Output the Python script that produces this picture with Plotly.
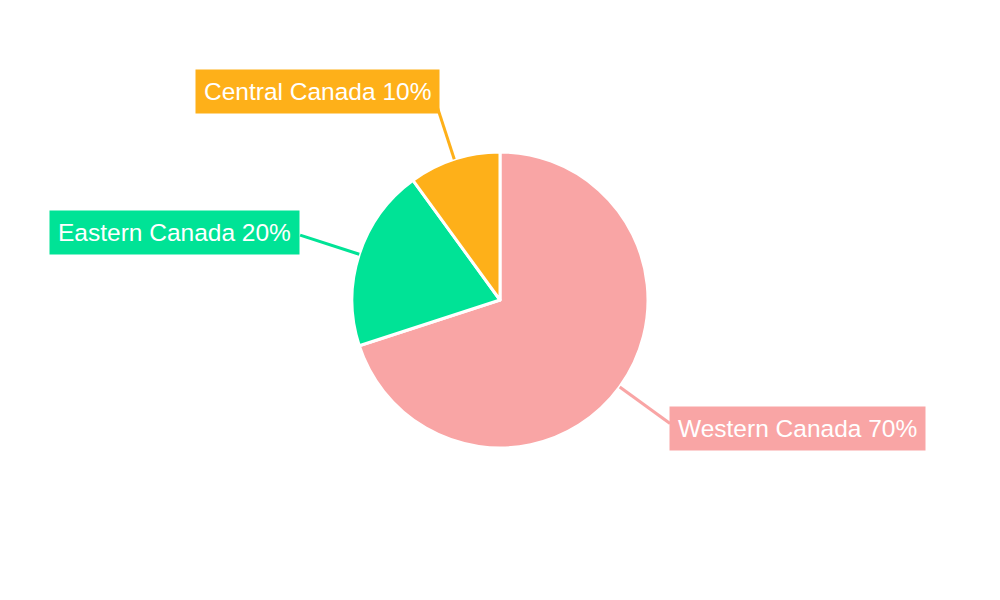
import math
import plotly.graph_objects as go

labels = ["Western Canada", "Eastern Canada", "Central Canada"]
values = [70, 20, 10]
colors = ["#F9A5A5", "#00E396", "#FEB019"]

W, H = 1000, 600
OFF = 8  # page body margin
cx_px, cy_px, r_px = 500 - OFF, 300 - OFF, 148

fig = go.Figure(go.Pie(
    labels=labels,
    values=values,
    sort=False,
    direction="clockwise",
    rotation=0,
    textinfo="none",
    marker=dict(colors=colors, line=dict(color="white", width=3)),
    domain=dict(x=[(cx_px - r_px) / W, (cx_px + r_px) / W],
                y=[1 - (cy_px + r_px) / H, 1 - (cy_px - r_px) / H]),
    showlegend=False,
))

total = sum(values)
cum = 0
shapes = []
annotations = []
for lab, val, col in zip(labels, values, colors):
    mid = (cum + val / 2) / total * 2 * math.pi
    cum += val
    dx, dy = math.sin(mid), -math.cos(mid)
    x0, y0 = cx_px + r_px * 1.0 * dx, cy_px + r_px * 1.0 * dy
    x1, y1 = cx_px + r_px * 1.42 * dx, cy_px + r_px * 1.42 * dy
    shapes.append(dict(type="line", xref="paper", yref="paper",
                       x0=x0 / W, y0=1 - y0 / H, x1=x1 / W, y1=1 - y1 / H,
                       line=dict(color=col, width=3), layer="above"))
    pct = round(val / total * 100)
    xs = -7 * (1 - abs(dx)) * (1 if dx > 0 else -1)
    annotations.append(dict(
        x=(x1 + xs) / W, y=1 - (y1 + 9 * dy) / H, xref="paper", yref="paper",
        text=f"{lab} {pct}%", showarrow=False,
        xanchor="left" if dx > 0 else "right", yanchor="middle",
        bgcolor=col, borderpad=8,
        font=dict(family="Liberation Sans, Arial, sans-serif", size=24.5, color="white"),
    ))

fig.update_layout(
    width=W, height=H,
    margin=dict(l=0, r=0, t=0, b=0),
    paper_bgcolor="white", plot_bgcolor="white",
    shapes=shapes, annotations=annotations,
)
fig.write_html("out.html")
